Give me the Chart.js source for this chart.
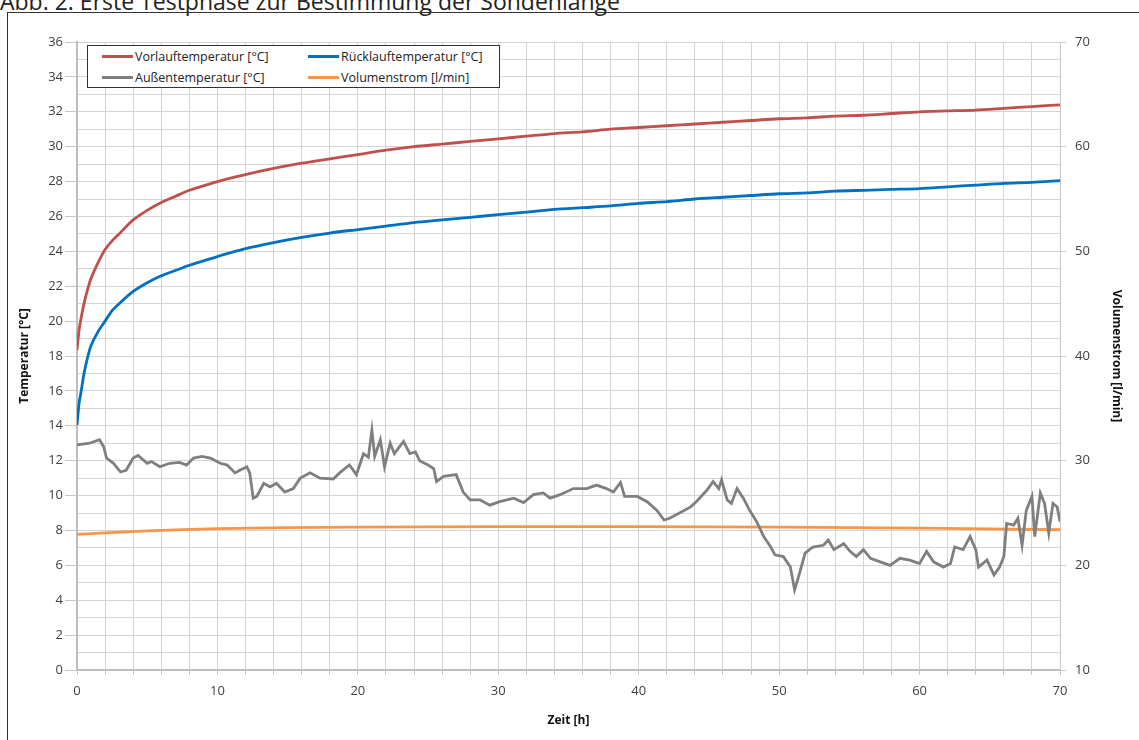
<!doctype html>
<html lang="de">
<head>
    <meta charset="utf-8">
    <title>Abb. 2: Erste Testphase zur Bestimmung der Sondenlänge</title>
    <style>
        html, body { margin: 0; padding: 0; background: #fff; overflow: hidden; }
        #title {
            position: absolute; left: 0; top: -15px; line-height: 23px;
            font: 23px "Open Sans", sans-serif; color: #222; white-space: nowrap;
        }
        #frame {
            position: absolute; left: 7px; top: 12px; width: 1140px; height: 740px;
            border-left: 1px solid #333; border-top: 1px solid #333;
        }
        #wrap { position: absolute; left: 8px; top: 13px; width: 1131px; height: 727px; }
        #legend {
            position: absolute; left: 87px; top: 45px; width: 411px; height: 41px;
            border: 1px solid #333; background: #fff;
            display: grid; grid-template-columns: 206px 205px; align-content: center; row-gap: 4px;
            font: 12.5px "Open Sans", sans-serif; color: #222;
        }
        #legend span.item { display: flex; align-items: center; white-space: nowrap; }
        #legend i { display: inline-block; width: 31px; height: 3px; margin: 0 2px 0 14px; }
    </style>
</head>
<body>
    <div id="title">Abb. 2: Erste Testphase zur Bestimmung der Sondenlänge</div>
    <div id="frame"></div>
    <div id="wrap"><canvas id="chart"></canvas></div>
    <div id="legend"></div>
    <script src="https://cdn.jsdelivr.net/npm/chart.js"></script>
    <script>
        // Zeitachse fuer Vorlauf / Ruecklauf [h]
        const zeit = [0, 0.15, 0.3, 0.5, 0.75, 1, 1.5, 2, 2.5, 3, 4, 5, 6, 7, 8, 9, 10, 12, 14, 16, 18, 20,
            22, 24, 26, 28, 30, 32, 34, 36, 38, 40, 42, 44, 46, 48, 50, 52, 54, 56, 58, 60, 62, 64, 66, 68, 70];
        const vorlauf = [18.35, 19.5, 20.2, 21.0, 21.8, 22.45, 23.35, 24.1, 24.6, 25.0, 25.8, 26.35, 26.8, 27.15,
            27.5, 27.75, 28.0, 28.4, 28.75, 29.05, 29.3, 29.55, 29.8, 30.0, 30.15, 30.3, 30.45, 30.6, 30.75, 30.85,
            31.0, 31.1, 31.2, 31.3, 31.4, 31.5, 31.6, 31.65, 31.75, 31.8, 31.9, 32.0, 32.05, 32.1, 32.2, 32.3, 32.4];
        const ruecklauf = [14.05, 15.3, 16.0, 17.0, 17.9, 18.6, 19.4, 20.0, 20.6, 21.0, 21.7, 22.2, 22.6, 22.9,
            23.2, 23.45, 23.7, 24.15, 24.5, 24.8, 25.05, 25.25, 25.45, 25.65, 25.8, 25.95, 26.1, 26.25, 26.4, 26.5,
            26.6, 26.75, 26.85, 27.0, 27.1, 27.2, 27.3, 27.35, 27.45, 27.5, 27.55, 27.6, 27.7, 27.8, 27.9, 27.95, 28.05];

        // Aussentemperatur
        const zeitAussen = [0, 0.9, 1.6, 1.9, 2.1, 2.6, 3.1, 3.5, 4.0, 4.35, 5.0, 5.3, 5.9, 6.6, 7.3, 7.8, 8.3, 8.9,
            9.5, 10.2, 10.7, 11.25, 11.6, 12.1, 12.3, 12.55, 12.8, 13.3, 13.75, 14.2, 14.8, 15.4, 15.9, 16.6, 17.3,
            18.25, 18.7, 19.4, 19.9, 20.4, 20.75, 21.0, 21.2, 21.6, 21.9, 22.3, 22.6, 23.25, 23.7, 24.1, 24.4, 25.0,
            25.4, 25.6, 26.1, 27.0, 27.5, 28.0, 28.7, 29.4, 30.1, 31.1, 31.8, 32.5, 33.2, 33.7, 34.4, 35.35, 36.3,
            37.0, 37.7, 38.2, 38.7, 39.0, 39.9, 40.6, 41.3, 41.8, 42.2, 42.9, 43.7, 44.1, 44.85, 45.3, 45.7, 45.9,
            46.3, 46.6, 47.0, 47.45, 47.9, 48.4, 48.9, 49.4, 49.7, 50.3, 50.8, 51.1, 51.4, 51.85, 52.4, 53.15, 53.5,
            53.9, 54.6, 55.05, 55.5, 56.0, 56.5, 57.2, 57.9, 58.6, 59.3, 60.0, 60.5, 61.0, 61.7, 62.2, 62.5, 63.1,
            63.6, 64.0, 64.2, 64.8, 65.3, 65.7, 66.0, 66.2, 66.7, 67.0, 67.3, 67.6, 68.0, 68.2, 68.6, 68.9, 69.2,
            69.5, 69.8, 70.0];
        const aussen = [12.9, 13.0, 13.2, 12.8, 12.15, 11.85, 11.35, 11.45, 12.15, 12.3, 11.85, 11.95, 11.65, 11.85,
            11.9, 11.75, 12.15, 12.25, 12.15, 11.85, 11.75, 11.3, 11.45, 11.65, 11.3, 9.85, 9.95, 10.7, 10.5, 10.7,
            10.2, 10.4, 11.0, 11.3, 11.0, 10.95, 11.3, 11.75, 11.2, 12.4, 12.2, 13.75, 12.25, 13.2, 11.65, 13.0, 12.4,
            13.1, 12.4, 12.5, 12.0, 11.75, 11.55, 10.8, 11.1, 11.2, 10.2, 9.75, 9.75, 9.45, 9.65, 9.85, 9.6, 10.05,
            10.15, 9.85, 10.05, 10.4, 10.4, 10.6, 10.4, 10.2, 10.75, 9.95, 9.95, 9.65, 9.15, 8.6, 8.7, 9.0, 9.35,
            9.65, 10.3, 10.8, 10.4, 10.9, 9.75, 9.55, 10.4, 9.85, 9.15, 8.5, 7.65, 7.05, 6.6, 6.5, 5.9, 4.6, 5.4,
            6.7, 7.05, 7.15, 7.45, 6.9, 7.25, 6.8, 6.5, 6.9, 6.4, 6.2, 6.0, 6.4, 6.3, 6.1, 6.8, 6.2, 5.9, 6.1, 7.05,
            6.9, 7.65, 6.9, 5.9, 6.3, 5.45, 5.9, 6.5, 8.4, 8.3, 8.7, 7.15, 9.15, 9.95, 7.65, 10.15, 9.55, 7.85,
            9.55, 9.35, 8.5];

        // Volumenstrom [l/min], rechte Achse
        const zeitVolumen = [0, 2, 5, 10, 15, 20, 30, 40, 50, 60, 70];
        const volumen = [22.95, 23.1, 23.3, 23.5, 23.6, 23.65, 23.7, 23.7, 23.65, 23.55, 23.4];

        const pts = (xs, ys) => xs.map((x, i) => ({ x: x, y: ys[i] }));

        const datasets = [
            { label: 'Vorlauftemperatur [°C]', data: pts(zeit, vorlauf), borderColor: '#C0504D', yAxisID: 'y', tension: 0.25 },
            { label: 'Rücklauftemperatur [°C]', data: pts(zeit, ruecklauf), borderColor: '#0070C0', yAxisID: 'y', tension: 0.25 },
            { label: 'Außentemperatur [°C]', data: pts(zeitAussen, aussen), borderColor: '#7F7F7F', yAxisID: 'y', tension: 0 },
            { label: 'Volumenstrom [l/min]', data: pts(zeitVolumen, volumen), borderColor: '#F79646', yAxisID: 'y2', tension: 0.25 }
        ];
        datasets.forEach(d => {
            d.borderWidth = 2.8;
            d.pointRadius = 0;
            d.fill = false;
        });

        // legend as html box inside the plot
        const legend = document.getElementById('legend');
        [0, 1, 2, 3].forEach(i => {
            const d = datasets[i];
            const el = document.createElement('span');
            el.className = 'item';
            el.innerHTML = '<i style="background:' + d.borderColor + '"></i>' + d.label;
            legend.appendChild(el);
        });

        const tickFont = { family: 'Open Sans', size: 13 };
        const titleFont = { family: 'Open Sans', size: 12, weight: 'bold' };
        const gridCol = '#d4d4d4';

        new Chart(document.getElementById('chart'), {
            type: 'line',
            data: { datasets: datasets },
            options: {
                responsive: true,
                maintainAspectRatio: false,
                animation: false,
                layout: { padding: { top: 29, left: 0, right: 0, bottom: 0 } },
                plugins: { legend: { display: false }, tooltip: { enabled: false } },
                scales: {
                    x: {
                        type: 'linear', min: 0, max: 70,
                        ticks: {
                            stepSize: 2, autoSkip: false, maxRotation: 0, padding: 8,
                            color: '#404040', font: tickFont,
                            callback: v => (v % 10 === 0 ? v : '')
                        },
                        grid: { color: gridCol, tickLength: 5, tickColor: '#c8c8c8' },
                        border: { color: '#bdbdbd', width: 2 },
                        title: { display: true, text: 'Zeit [h]', color: '#111', font: titleFont, padding: { top: 4, bottom: 12 } },
                        afterFit: s => { s.height = 70; }
                    },
                    y: {
                        position: 'left', min: 0, max: 36,
                        ticks: {
                            stepSize: 1, autoSkip: false, padding: 2,
                            color: '#404040', font: tickFont,
                            callback: v => (v % 2 === 0 ? v : '')
                        },
                        grid: {
                            color: gridCol, tickLength: 12,
                            tickColor: c => (c.tick && c.tick.value % 2 === 0 ? '#c8c8c8' : 'rgba(0,0,0,0)')
                        },
                        border: { color: '#bdbdbd', width: 2 },
                        title: { display: true, text: 'Temperatur [°C]', color: '#111', font: titleFont, padding: { top: 9, bottom: 0 } },
                        afterFit: s => { s.width = 69; }
                    },
                    y2: {
                        position: 'right', min: 10, max: 70,
                        ticks: { stepSize: 10, padding: 9, color: '#404040', font: tickFont },
                        grid: { drawOnChartArea: false, tickLength: 6, tickColor: '#c8c8c8' },
                        border: { color: '#c8c8c8', width: 1 },
                        title: { display: true, text: 'Volumenstrom [l/min]', color: '#111', font: titleFont, padding: { top: 15, bottom: 0 } },
                        afterFit: s => { s.width = 79; }
                    }
                }
            }
        });
    </script>
</body>
</html>
